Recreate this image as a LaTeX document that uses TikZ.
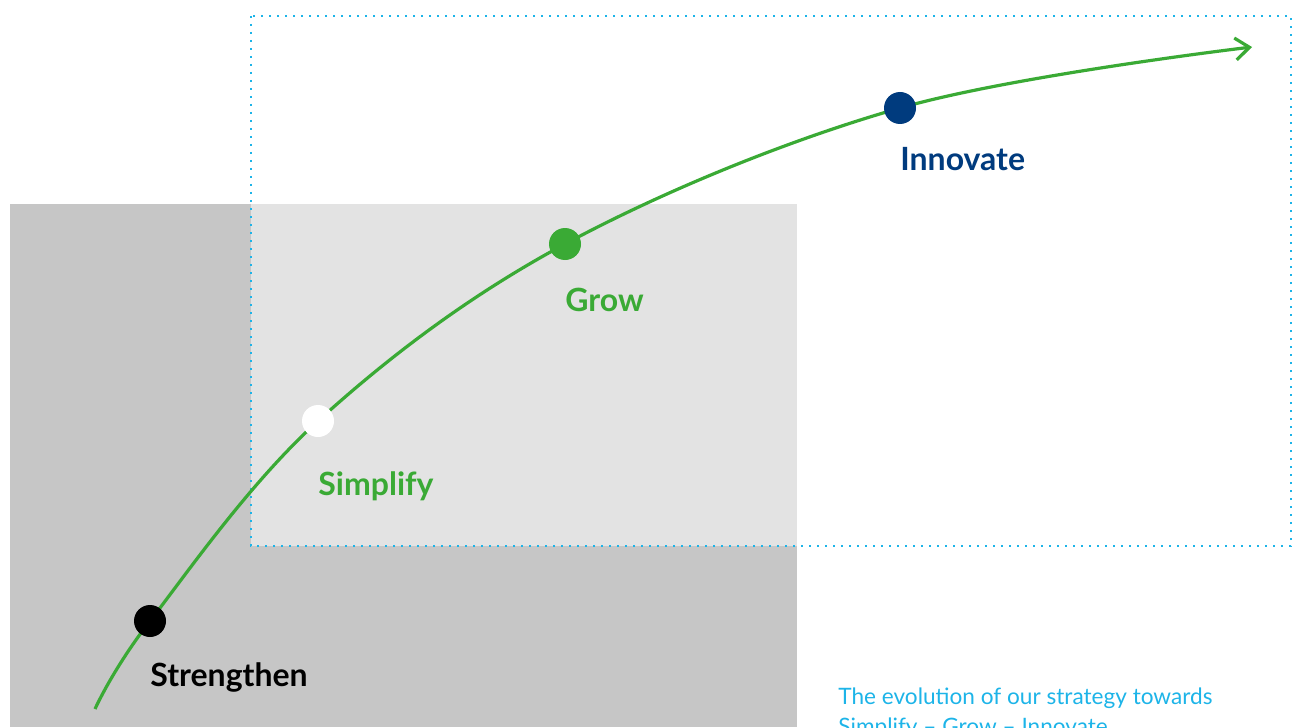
\documentclass[tikz,border=0pt]{standalone}
\usepackage{xcolor}
\usepackage{fontspec}
\setmainfont{Lato}
\usepackage{tikz}
\usetikzlibrary{arrows.meta}
\definecolor{hpGreen}{HTML}{3AAA35}
\definecolor{hpNavy}{HTML}{003B7E}
\definecolor{hpCyan}{HTML}{1DB4E8}
\definecolor{hpDark}{HTML}{C6C6C6}
\definecolor{hpLight}{HTML}{E3E3E3}
\tikzset{
  milestone/.style={circle, inner sep=0pt, minimum size=16pt},
  stageLabel/.style={anchor=west, inner sep=0pt, font=\fontsize{16}{18}\selectfont\bfseries},
  pathLine/.style={draw=hpGreen, line width=1.6pt, -{Straight Barb[length=7pt, width=11pt, line width=1.6pt]}},
  scopeBox/.style={draw=hpCyan, line width=1pt, dash pattern=on 1pt off 3pt},
  caption/.style={anchor=north west, inner sep=0pt, text=hpCyan, align=left, font=\fontsize{11.3}{15}\selectfont}
}
\begin{document}
\begin{tikzpicture}[x=0.5pt, y=-0.5pt]
  \useasboundingbox (0,0) rectangle (1293,727);
  \clip (0,0) rectangle (1293,727);

  % background panels
  \fill[hpDark] (10,204) rectangle (797,727);
  \fill[hpLight] (251,204) rectangle (797,546);
  \draw[scopeBox] (251,16) rectangle (1291,546);

  % curve end points
  \coordinate (start) at (95,709);
  \coordinate (tip) at (1252,47);

  % stages along the curve
  \node[milestone] (strengthen) at (150,621) {};
  \node[milestone] (simplify) at (318,421) {};
  \node[milestone] (grow) at (565,244) {};
  \node[milestone] (innovate) at (900,108) {};

  \draw[pathLine] plot[smooth, tension=0.6] coordinates {(start) (strengthen) (simplify) (grow) (innovate) (tip)};

  \fill[black] (strengthen) circle (8pt);
  \fill[white] (simplify) circle (8pt);
  \fill[hpGreen] (grow) circle (8pt);
  \fill[hpNavy] (innovate) circle (8pt);

  \node[stageLabel, text=black] (strengthenText) at (150,677) {Strengthen};
  \node[stageLabel, text=hpGreen] (simplifyText) at (318,486) {Simplify};
  \node[stageLabel, text=hpGreen] (growText) at (565,300) {Grow};
  \node[stageLabel, text=hpNavy] (innovateText) at (900,159) {Innovate};

  \node[caption] (note) at (838,687) {The evolution of our strategy towards\\Simplify -- Grow -- Innovate};
\end{tikzpicture}
\end{document}
